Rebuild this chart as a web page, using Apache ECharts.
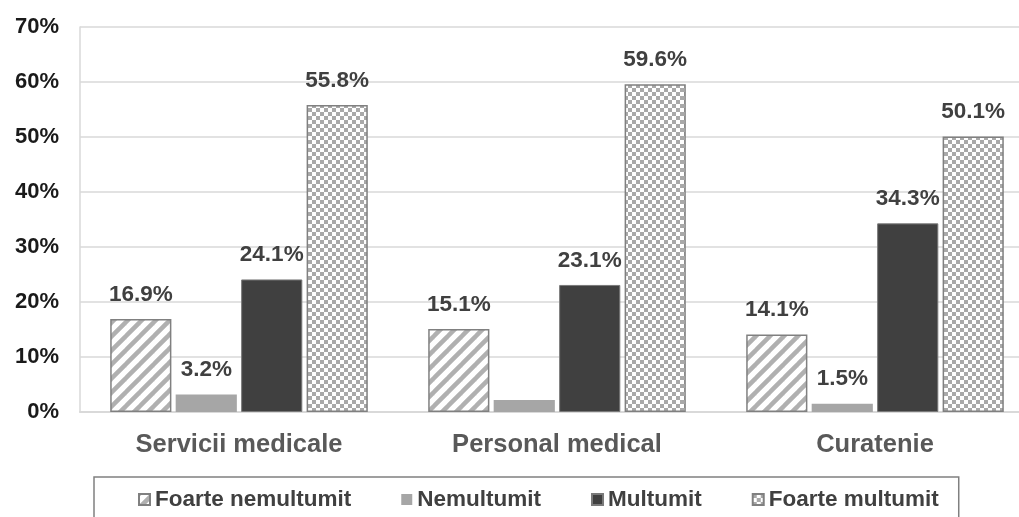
<!DOCTYPE html>
<html>
<head>
<meta charset="utf-8">
<script src="https://cdn.jsdelivr.net/npm/echarts@6/dist/echarts.min.js"></script>
<style>
html,body{margin:0;padding:0;background:#fff;}
#chart{width:1019px;height:517px;}
</style>
</head>
<body>
<div id="chart"></div>
<script>
// ---- data ----
const categories = ['Servicii medicale', 'Personal medical', 'Curatenie'];
const seriesNames = ['Foarte nemultumit', 'Nemultumit', 'Multumit', 'Foarte multumit'];
const foarteNemultumit = [16.9, 15.1, 14.1];
const nemultumit = [3.2, 2.2, 1.5];
const multumit = [24.1, 23.1, 34.3];
const foarteMultumit = [55.8, 59.6, 50.1];
const hiddenLabels = [[], [1], [], []]; // labels not shown in the reference
const yTicks = [0, 10, 20, 30, 40, 50, 60, 70];

// ---- patterns ----
function stripePattern() {
  const s = 14;
  const c = document.createElement('canvas');
  c.width = s; c.height = s;
  const g = c.getContext('2d');
  g.fillStyle = '#ffffff';
  g.fillRect(0, 0, s, s);
  g.strokeStyle = '#b0b0b0';
  g.lineWidth = 4.5;
  g.lineCap = 'square';
  [-s, 0, s].forEach(dx => {
    g.beginPath();
    g.moveTo(dx, s);
    g.lineTo(dx + s, 0);
    g.stroke();
  });
  return c;
}
function checkerPattern() {
  const cell = 4;
  const c = document.createElement('canvas');
  c.width = cell * 2; c.height = cell * 2;
  const g = c.getContext('2d');
  g.fillStyle = '#ffffff';
  g.fillRect(0, 0, cell * 2, cell * 2);
  g.fillStyle = '#a9a9a9';
  g.fillRect(0, 0, cell, cell);
  g.fillRect(cell, cell, cell, cell);
  return c;
}

const font = "'Liberation Sans', Arial, sans-serif";
const dataSets = [foarteNemultumit, nemultumit, multumit, foarteMultumit];
const styles = [
  { color: { image: stripePattern(), repeat: 'repeat' }, borderColor: '#808080', borderWidth: 1.5 },
  { color: '#a6a6a6', borderColor: '#a6a6a6', borderWidth: 0 },
  { color: '#404040', borderColor: '#7a7a7a', borderWidth: 1 },
  { color: { image: checkerPattern(), repeat: 'repeat' }, borderColor: '#808080', borderWidth: 1.5 }
];

const series = seriesNames.map((name, i) => ({
  name: name,
  type: 'bar',
  barGap: '7%',
  barCategoryGap: '19%',
  itemStyle: styles[i],
  label: {
    show: true,
    position: 'top',
    distance: 13,
    formatter: p => p.value.toFixed(1) + '%',
    color: '#404040',
    fontFamily: font,
    fontWeight: 'bold',
    fontSize: 22.5
  },
  emphasis: { disabled: true },
  data: dataSets[i].map((v, j) => hiddenLabels[i].includes(j) ? { value: v, label: { show: false } } : v)
}));

const chart = echarts.init(document.getElementById('chart'), null, { renderer: 'canvas' });
chart.setOption({
  animation: false,
  backgroundColor: '#ffffff',
  grid: { left: 80, top: 27, height: 385, width: 954, containLabel: false, outerBoundsMode: 'none' },
  legend: {
    data: seriesNames.map(n => ({ name: n, icon: 'rect' })),
    left: 94,
    top: 477,
    padding: [11, 20, 30, 44],
    itemGap: 50,
    itemWidth: 11,
    itemHeight: 11,
    borderColor: '#808080',
    borderWidth: 1.5,
    textStyle: { fontFamily: font, fontWeight: 'bold', fontSize: 22.5, color: '#404040' }
  },
  xAxis: {
    type: 'category',
    data: categories,
    axisTick: { show: false },
    axisLine: { show: true, lineStyle: { color: '#d9d9d9', width: 2 } },
    axisLabel: { margin: 20, fontFamily: font, fontWeight: 'bold', fontSize: 25.5, color: '#595959' }
  },
  yAxis: {
    type: 'value',
    min: yTicks[0],
    max: yTicks[yTicks.length - 1],
    interval: 10,
    axisLine: { show: true, lineStyle: { color: '#d9d9d9', width: 1.5 } },
    axisTick: { show: false },
    splitLine: { lineStyle: { color: '#d9d9d9', width: 1.5 } },
    axisLabel: { margin: 21, formatter: '{value}%', fontFamily: font, fontWeight: 'bold', fontSize: 22, color: '#1a1a1a' }
  },
  series: series
});
</script>
</body>
</html>
